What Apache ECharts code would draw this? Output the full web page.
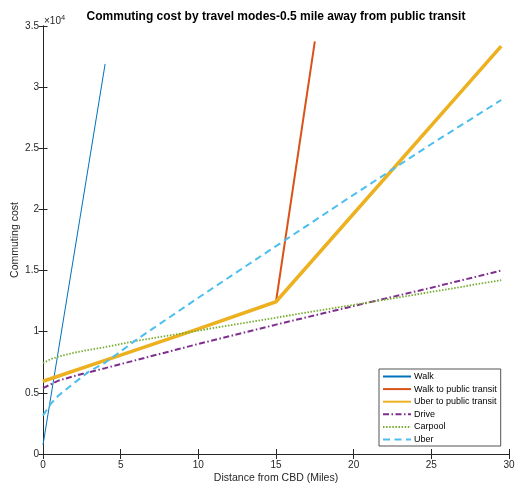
<!DOCTYPE html>
<html>
<head>
<meta charset="utf-8">
<script src="https://cdn.jsdelivr.net/npm/echarts@6/dist/echarts.min.js"></script>
<style>
  html, body { margin: 0; padding: 0; background: #fff; }
  #chart { width: 515px; height: 489px; }
</style>
</head>
<body>
<div id="chart"></div>
<script>
// Commuting cost (in dollars) versus distance from the CBD, per travel mode
const walkX = [0, 4];
const walkCost = [750, 31900];

const walkTransitX = [0, 5, 10, 15, 17.5];
const walkTransitCost = [5950, 8080, 10230, 12450, 33750];

const uberTransitX = [0, 5, 10, 15, 29.5];
const uberTransitCost = [5950, 8080, 10230, 12450, 33350];

const driveX = [0, 1, 2, 3, 4, 6, 10, 15, 20, 25, 29.5];
const driveCost = [5390, 6000, 6370, 6700, 7020, 7680, 9000, 10580, 12100, 13600, 15000];

const carpoolX = [0, 0.5, 1, 2, 3, 4, 6, 10, 15, 20, 25, 29.5];
const carpoolCost = [7440, 7760, 7960, 8280, 8530, 8740, 9250, 10090, 11150, 12200, 13250, 14220];

const uberX = [0, 0.5, 1, 2, 3, 4, 6, 10, 15, 20, 25, 29.5];
const uberCost = [3150, 4100, 4780, 5800, 6780, 7460, 9330, 12780, 17000, 21200, 25350, 28950];

// Axis ticks (cost axis shown in units of 10^4)
const xTicks = [0, 5, 10, 15, 20, 25, 30];
const yTicks = [0, 5000, 10000, 15000, 20000, 25000, 30000, 35000];
const yTickLabels = ['0', '0.5', '1', '1.5', '2', '2.5', '3', '3.5'];

const titleText = 'Commuting cost by travel modes-0.5 mile away from public transit';
const xName = 'Distance from CBD (Miles)';
const yName = 'Commuting cost';

const pairs = (xs, ys) => xs.map((x, i) => [x, ys[i]]);

const axisColor = '#262626';
const fontFamily = '"Liberation Sans", Arial, Helvetica, sans-serif';

const chart = echarts.init(document.getElementById('chart'), null, { renderer: 'canvas' });

const boxAxisCommon = {
  axisLine: { show: true, lineStyle: { color: axisColor, width: 1 } },
  splitLine: { show: false },
};

const option = {
  animation: false,
  backgroundColor: '#ffffff',
  textStyle: { fontFamily: fontFamily },
  grid: { left: 43, right: 6, top: 26, bottom: 35, containLabel: false, outerBoundsMode: 'none' },
  xAxis: [
    Object.assign({
      type: 'value', position: 'bottom',
      min: xTicks[0], max: xTicks[xTicks.length - 1], interval: 5,
      axisTick: { show: true, inside: true, length: 5, lineStyle: { color: axisColor } },
      axisLabel: { show: true, margin: 6, color: axisColor, fontSize: 10, fontFamily: fontFamily },
      name: xName, nameLocation: 'middle', nameGap: 19, nameMoveOverlap: false,
      nameTextStyle: { color: axisColor, fontSize: 10.5, fontFamily: fontFamily },
    }, boxAxisCommon),
    Object.assign({
      type: 'value', position: 'top',
      min: xTicks[0], max: xTicks[xTicks.length - 1], interval: 5,
      axisTick: { show: true, inside: true, length: 5, lineStyle: { color: axisColor } },
      axisLabel: { show: false },
    }, boxAxisCommon),
  ],
  yAxis: [
    Object.assign({
      type: 'value', position: 'left',
      min: yTicks[0], max: yTicks[yTicks.length - 1], interval: 5000,
      axisTick: { show: true, inside: true, length: 4.5, lineStyle: { color: axisColor } },
      axisLabel: {
        show: true, margin: 4, color: axisColor, fontSize: 10, fontFamily: fontFamily,
        formatter: (v) => yTickLabels[yTicks.indexOf(v)],
      },
      name: yName, nameLocation: 'middle', nameGap: 22, nameRotate: 90, nameMoveOverlap: false,
      nameTextStyle: { color: axisColor, fontSize: 10.5, fontFamily: fontFamily },
    }, boxAxisCommon),
    Object.assign({
      type: 'value', position: 'right',
      min: yTicks[0], max: yTicks[yTicks.length - 1], interval: 5000,
      axisTick: { show: true, inside: true, length: 4.5, lineStyle: { color: axisColor } },
      axisLabel: { show: false },
    }, boxAxisCommon),
  ],
  legend: {
    orient: 'vertical',
    left: 379, top: 369,
    width: 122,
    padding: [3, 4, 2, 3],
    itemWidth: 28, itemHeight: 9, itemGap: 3.6,
    borderColor: axisColor, borderWidth: 0.8,
    backgroundColor: '#ffffff',
    itemStyle: { color: 'rgba(0,0,0,0)', borderColor: 'rgba(0,0,0,0)', borderWidth: 0, opacity: 0 },
    textStyle: { color: '#000', fontSize: 9, fontFamily: fontFamily, padding: [0, 0, 0, -2] },
    data: ['Walk', 'Walk to public transit', 'Uber to public transit', 'Drive', 'Carpool', 'Uber'],
  },
  graphic: [
    {
      type: 'text',
      style: {
        text: titleText, x: 276, y: 17, align: 'center', verticalAlign: 'middle',
        font: 'bold 12px ' + fontFamily, fill: '#000',
      },
    },
    {
      type: 'text',
      style: {
        x: 44, y: 21, verticalAlign: 'middle',
        text: '{a|×10}{b|4}',
        rich: {
          a: { fontSize: 10, fontFamily: fontFamily, fill: axisColor, color: axisColor },
          b: { fontSize: 7.5, fontFamily: fontFamily, fill: axisColor, color: axisColor, verticalAlign: 'top', padding: [0, 0, 6, 0] },
        },
      },
    },
  ],
  series: [
    {
      name: 'Walk', type: 'line', data: pairs(walkX, walkCost),
      symbol: 'none', lineStyle: { color: '#0072BD', width: 1 }, itemStyle: { color: '#0072BD' },
    },
    {
      name: 'Walk to public transit', type: 'line', data: pairs(walkTransitX, walkTransitCost),
      symbol: 'none', lineStyle: { color: '#D95319', width: 2 }, itemStyle: { color: '#D95319' },
    },
    {
      name: 'Uber to public transit', type: 'line', data: pairs(uberTransitX, uberTransitCost),
      symbol: 'none', lineStyle: { color: '#EDB120', width: 3.5 }, itemStyle: { color: '#EDB120' },
    },
    {
      name: 'Drive', type: 'line', data: pairs(driveX, driveCost),
      symbol: 'none',
      lineStyle: { color: '#7E2F8E', width: 2, type: [6, 2.5, 1.5, 2.5] }, itemStyle: { color: '#7E2F8E' },
    },
    {
      name: 'Carpool', type: 'line', data: pairs(carpoolX, carpoolCost),
      symbol: 'none',
      lineStyle: { color: '#77AC30', width: 1.8, type: [1.5, 1.6] }, itemStyle: { color: '#77AC30' },
    },
    {
      name: 'Uber', type: 'line', data: pairs(uberX, uberCost),
      symbol: 'none',
      lineStyle: { color: '#4DBEEE', width: 2, type: [7, 4.5] }, itemStyle: { color: '#4DBEEE' },
    },
  ],
};

chart.setOption(option);
</script>
</body>
</html>
